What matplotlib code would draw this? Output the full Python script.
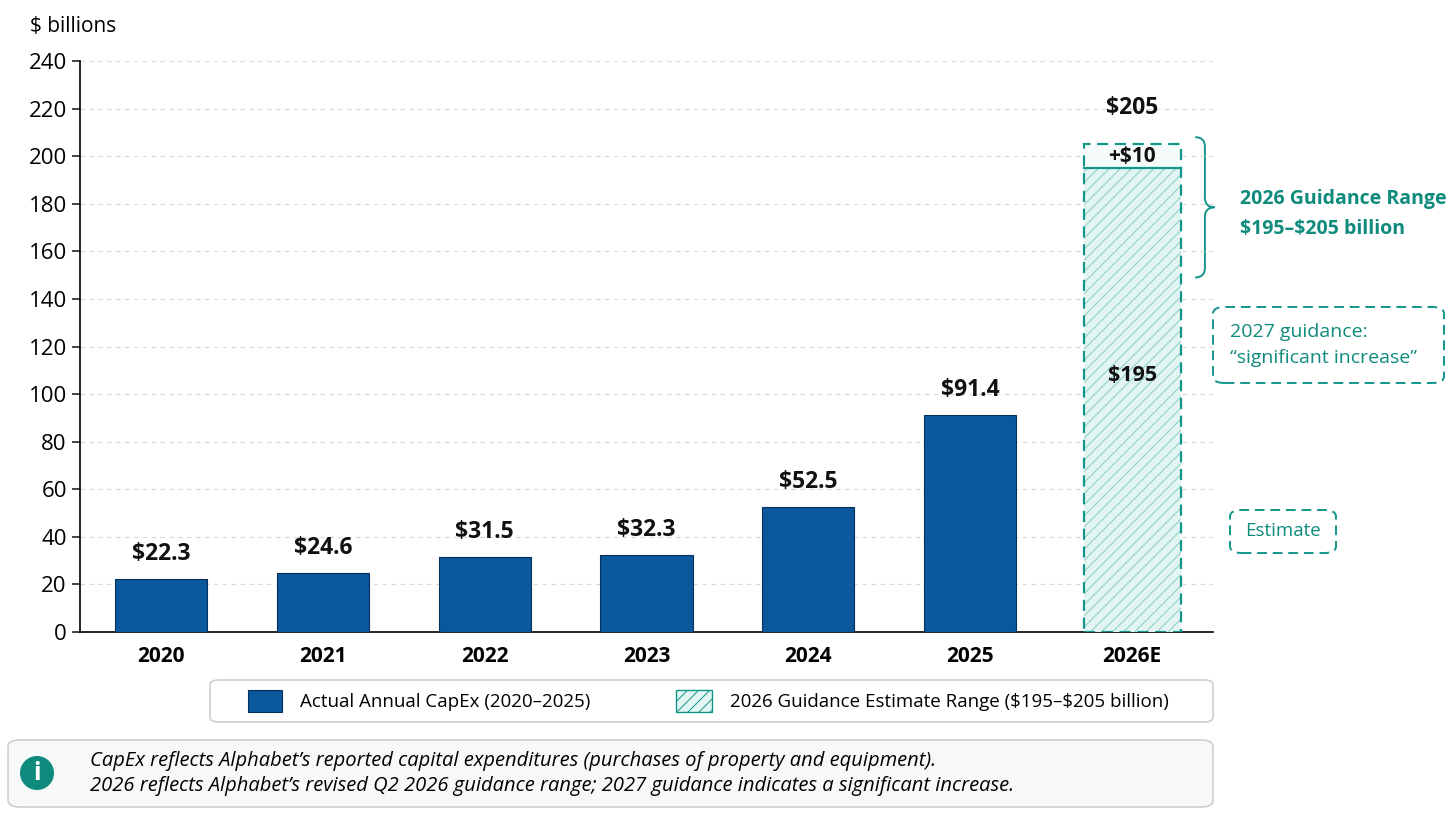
import matplotlib.pyplot as plt
from matplotlib.patches import FancyBboxPatch, Rectangle, Circle, PathPatch
from matplotlib.path import Path

# data
years = ["2020", "2021", "2022", "2023", "2024", "2025"]
capex = [22.3, 24.6, 31.5, 32.3, 52.5, 91.4]
est_label = "2026E"
guide_low = 195
guide_high = 205

BLUE = "#0B589C"
TEAL = "#13968A"
TEAL_TXT = "#0E8B7D"
LIGHT = "#E3F5F2"

plt.rcParams["font.family"] = ["Open Sans", "DejaVu Sans"]
plt.rcParams["hatch.linewidth"] = 0.7
plt.rcParams["text.parse_math"] = False

fig = plt.figure(figsize=(14.56, 8.21), dpi=100)
W, H = 1456, 821
ax = fig.add_axes([80 / W, 1 - 632 / H, (1213 - 80) / W, (632 - 61) / H])

x = list(range(len(years)))
ax.bar(x, capex, width=0.57, color=BLUE, edgecolor="#06305a", linewidth=0.8, zorder=3)
for xi, v in zip(x, capex):
    ax.annotate(f"${v}", (xi, v), xytext=(0, 18), textcoords="offset points",
                ha="center", va="center", fontsize=16.5, fontweight="bold", color="#111111")

# 2026 estimate bar
xe = len(years)
ax.bar(xe, guide_low, width=0.6, color=LIGHT, edgecolor="#86cdc2", hatch="///",
       linewidth=0, zorder=3)
ax.bar(xe, guide_high - guide_low, bottom=guide_low, width=0.6, color="#f4fbfa",
       linewidth=0, zorder=3)
ax.bar(xe, guide_high, width=0.6, fill=False, edgecolor=TEAL, linewidth=1.6,
       linestyle=(0, (5, 3)), zorder=4)
ax.plot([xe - 0.3, xe + 0.3], [guide_low, guide_low], color=TEAL, lw=1.6, zorder=5)
ax.annotate(f"${guide_high}", (xe, guide_high), xytext=(0, 26), textcoords="offset points",
            ha="center", va="center", fontsize=16.5, fontweight="bold", color="#111111")
ax.text(xe, (guide_low + guide_high) / 2, f"+${guide_high - guide_low}", ha="center",
        va="center", fontsize=15, fontweight="bold", color="#111111", zorder=6)
ax.text(xe, 108, f"${guide_low}", ha="center", va="center",
        fontsize=15.5, fontweight="bold", color="#111111", zorder=6)

ax.set_xlim(-0.5, 6.5)
ax.set_ylim(0, 240)
ax.set_yticks(range(0, 241, 20))
ax.set_xticks(x + [xe])
ax.set_xticklabels(years + [est_label], fontsize=15, fontweight="bold")
ax.tick_params(axis="x", length=0, pad=10)
ax.tick_params(axis="y", labelsize=16, length=6, width=1.2, color="#222222")
ax.grid(axis="y", color="#d8d8d8", linestyle=(0, (4, 4)), linewidth=0.8, zorder=0)
for s in ["top", "right"]:
    ax.spines[s].set_visible(False)
ax.spines["left"].set_linewidth(1.2)
ax.spines["bottom"].set_linewidth(1.2)
fig.text(30 / W, 1 - 26 / H, "$ billions", fontsize=15, va="center", ha="left")

# brace
bx0, bx1, bx2 = 6.39, 6.45, 6.51
top, bot = 208, 149
mid = (top + bot) / 2
r = 4
verts = [(bx0, top), (bx1, top), (bx1, top - r), (bx1, mid + r),
         (bx1, mid), (bx2, mid), (bx2, mid), (bx1, mid), (bx1, mid - r),
         (bx1, bot + r), (bx1, bot), (bx0, bot)]
codes = [Path.MOVETO, Path.CURVE3, Path.CURVE3, Path.LINETO,
         Path.CURVE3, Path.CURVE3, Path.MOVETO, Path.CURVE3, Path.CURVE3,
         Path.LINETO, Path.CURVE3, Path.CURVE3]
ax.add_patch(PathPatch(Path(verts, codes), fill=False, edgecolor=TEAL, lw=1.4, clip_on=False))
fig.text(1240 / W, 1 - 199 / H, "2026 Guidance Range", fontsize=14, fontweight="bold",
         color=TEAL_TXT, va="center")
fig.text(1240 / W, 1 - 229 / H, f"${guide_low}–${guide_high} billion", fontsize=14,
         fontweight="bold", color=TEAL_TXT, va="center")

# dashed note boxes
def dashed_box(x0, y0, x1, y1):
    p = FancyBboxPatch((x0 / W, 1 - y1 / H), (x1 - x0) / W, (y1 - y0) / H,
                       boxstyle="round,pad=0,rounding_size=0.008", transform=fig.transFigure,
                       facecolor="white", edgecolor=TEAL, lw=1.4, linestyle=(0, (5, 3)))
    fig.patches.append(p)

dashed_box(1213, 307, 1444, 383)
fig.text(1230 / W, 1 - 332 / H, "2027 guidance:", fontsize=14, color=TEAL_TXT, va="center")
fig.text(1230 / W, 1 - 358 / H, "“significant increase”", fontsize=14, color=TEAL_TXT, va="center")
dashed_box(1230, 510, 1336, 553)
fig.text(1283 / W, 1 - 531 / H, "Estimate", fontsize=13.5, color=TEAL_TXT, va="center", ha="center")

# legend
leg = FancyBboxPatch((210 / W, 1 - 722 / H), (1213 - 210) / W, 42 / H,
                     boxstyle="round,pad=0,rounding_size=0.006", transform=fig.transFigure,
                     facecolor="white", edgecolor="#cfcfcf", lw=1.2)
fig.patches.append(leg)
fig.patches.append(Rectangle((248 / W, 1 - 712 / H), 34 / W, 22 / H, transform=fig.transFigure,
                             facecolor=BLUE, edgecolor="#06305a", lw=0.8))
fig.text(300 / W, 1 - 702 / H, "Actual Annual CapEx (2020–2025)", fontsize=13.5, va="center")
fig.patches.append(Rectangle((676 / W, 1 - 712 / H), 36 / W, 22 / H, transform=fig.transFigure,
                             facecolor=LIGHT, edgecolor=TEAL, hatch="///", lw=1.0))
fig.text(730 / W, 1 - 702 / H, f"2026 Guidance Estimate Range (${guide_low}–${guide_high} billion)",
         fontsize=13.5, va="center")

# info box
info = FancyBboxPatch((8 / W, 1 - 807 / H), (1213 - 8) / W, 67 / H,
                      boxstyle="round,pad=0,rounding_size=0.008", transform=fig.transFigure,
                      facecolor="#f7f8f8", edgecolor="#cfcfcf", lw=1.2)
fig.patches.append(info)
circ = Circle((37 / 100, (H - 773) / 100), 17 / 100, transform=fig.dpi_scale_trans,
              facecolor=TEAL_TXT, edgecolor="none")
fig.patches.append(circ)
fig.text(37 / W, 1 - 773 / H, "i", fontsize=18, fontweight="bold", color="white",
         ha="center", va="center")
fig.text(90 / W, 1 - 761 / H,
         "CapEx reflects Alphabet’s reported capital expenditures (purchases of property and equipment).",
         fontsize=14.5, style="italic", va="center")
fig.text(90 / W, 1 - 786 / H,
         "2026 reflects Alphabet’s revised Q2 2026 guidance range; 2027 guidance indicates a significant increase.",
         fontsize=14.5, style="italic", va="center")

fig.savefig("out.png", dpi=100)
